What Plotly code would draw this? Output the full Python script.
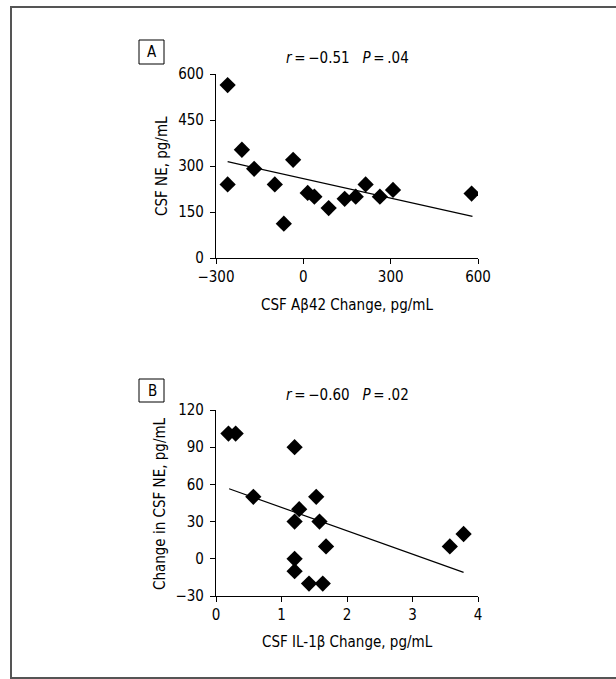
import plotly.graph_objects as go

# Panel A data
a_x = [-260, -260, -211, -169, -98, -67, -35, 15, 38, 87, 142, 180, 214, 263, 308, 578]
a_y = [564, 240, 353, 291, 240, 112, 320, 212, 200, 163, 193, 200, 240, 200, 222, 210]
a_fit_x = [-260, 581]
a_fit_y = [314, 136]
a_xticks = [-300, 0, 300, 600]
a_yticks = [0, 150, 300, 450, 600]

# Panel B data
b_x = [0.19, 0.30, 0.57, 1.20, 1.20, 1.27, 1.20, 1.20, 1.42, 1.53, 1.58, 1.63, 1.68, 3.57, 3.78]
b_y = [101, 101, 50, 90, 30, 40, 0, -10, -20, 50, 30, -20, 10, 10, 20]
b_fit_x = [0.20, 3.78]
b_fit_y = [56.5, -10.9]
b_xticks = [0, 1, 2, 3, 4]
b_yticks = [-30, 0, 30, 60, 90, 120]

W, H = 616, 679
FONT = "DejaVu Sans Condensed, Liberation Sans Narrow, Liberation Sans, Arial, sans-serif"
FS = 15


def px(x):
    return x / W


def py(y):
    return 1 - y / H


fig = go.Figure()
mk = dict(symbol="diamond", size=12.5, color="black", line=dict(width=0))
fig.add_trace(go.Scatter(x=a_x, y=a_y, mode="markers", marker=mk, xaxis="x", yaxis="y", showlegend=False))
fig.add_trace(go.Scatter(x=a_fit_x, y=a_fit_y, mode="lines", line=dict(color="black", width=1.2), xaxis="x", yaxis="y", showlegend=False))
fig.add_trace(go.Scatter(x=b_x, y=b_y, mode="markers", marker=mk, xaxis="x2", yaxis="y2", showlegend=False))
fig.add_trace(go.Scatter(x=b_fit_x, y=b_fit_y, mode="lines", line=dict(color="black", width=1.2), xaxis="x2", yaxis="y2", showlegend=False))

axcommon = dict(showline=True, linecolor="black", linewidth=1.2, ticks="outside", ticklen=5,
                tickwidth=1.2, tickcolor="black", showgrid=False, zeroline=False, automargin=False,
                tickfont=dict(family=FONT, size=FS, color="black"), fixedrange=True)

fig.update_layout(
    template="none",
    width=W, height=H, margin=dict(l=0, r=0, t=0, b=0, pad=0), autosize=False,
    paper_bgcolor="white", plot_bgcolor="white",
    font=dict(family=FONT, size=FS, color="black"),
    xaxis=dict(domain=[px(216), px(478)], range=[-300, 600], tickvals=a_xticks, anchor="y", **axcommon),
    yaxis=dict(domain=[py(258), py(74)], range=[0, 600], tickvals=a_yticks, anchor="x", ticklabelstandoff=3, **axcommon),
    xaxis2=dict(domain=[px(216), px(478)], range=[0, 4], tickvals=b_xticks, anchor="y2", **axcommon),
    yaxis2=dict(domain=[py(596), py(410)], range=[-30, 120], tickvals=b_yticks, anchor="x2", ticklabelstandoff=3, **axcommon),
)

ann = []
def text(x, y, t, angle=0, size=FS):
    ann.append(dict(x=px(x), y=py(y), xref="paper", yref="paper", text=t, showarrow=False,
                    xanchor="center", yanchor="middle", textangle=angle,
                    font=dict(family=FONT, size=size, color="black")))

text(347, 305, "CSF Aβ42 Change, pg/mL")
text(162, 166, "CSF NE, pg/mL", angle=-90)
text(347, 58, "<i>r</i>\u2009=\u2009−0.51   <i>P</i>\u2009=\u2009.04")
text(152, 52, "A")

text(347, 642, "CSF IL-1β Change, pg/mL")
text(160, 503, "Change in CSF NE, pg/mL", angle=-90)
text(347, 395, "<i>r</i>\u2009=\u2009−0.60   <i>P</i>\u2009=\u2009.02")
text(152, 391, "B")

shapes = [
    dict(type="rect", xref="paper", yref="paper", x0=px(11), x1=px(640), y0=py(678), y1=py(7),
         line=dict(color="#555555", width=2)),
    dict(type="rect", xref="paper", yref="paper", x0=px(139), x1=px(164), y0=py(64), y1=py(40),
         line=dict(color="black", width=1)),
    dict(type="rect", xref="paper", yref="paper", x0=px(139), x1=px(164), y0=py(402), y1=py(379),
         line=dict(color="black", width=1)),
]
fig.update_layout(annotations=ann, shapes=shapes)

fig.write_html("out.html")
